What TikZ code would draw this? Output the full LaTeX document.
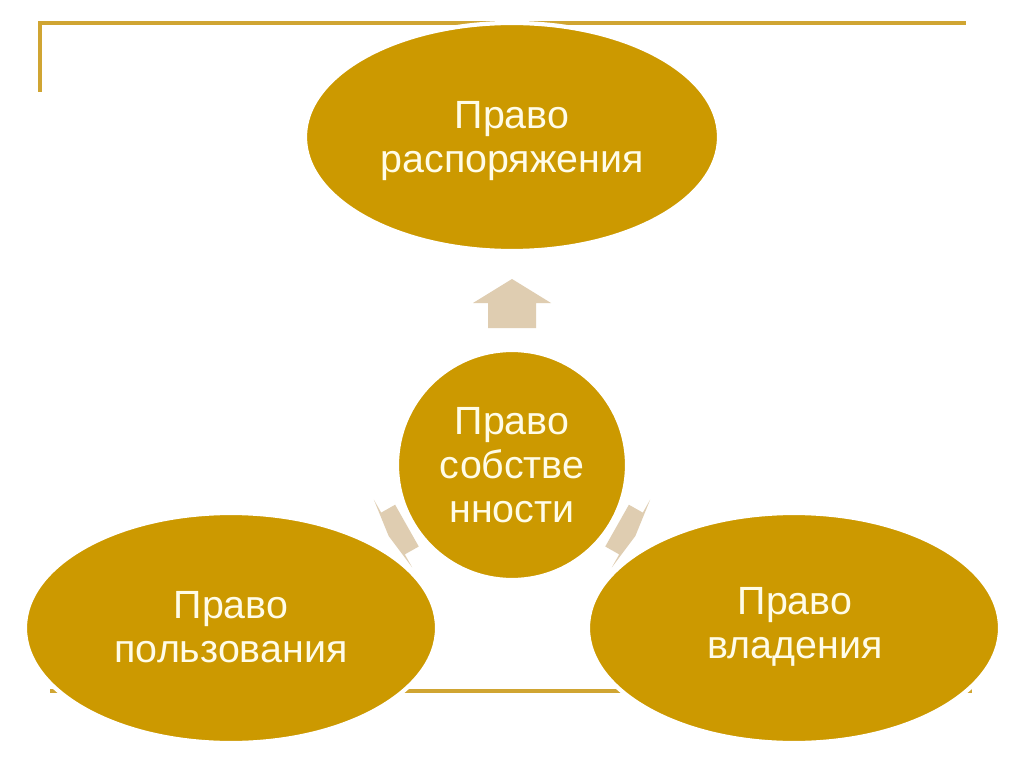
\documentclass[tikz,border=0pt]{standalone}
\usepackage{fontspec}
\setmainfont{Liberation Sans}
\usetikzlibrary{shapes.geometric}
\definecolor{gold}{RGB}{204,153,0}
\definecolor{framegold}{RGB}{208,165,50}
\definecolor{arrowfill}{RGB}{223,205,177}
\definecolor{cream}{RGB}{255,252,232}
\tikzset{
  blob/.style={ellipse, fill=gold, draw=white, line width=3pt, inner sep=0pt},
  blobtext/.style={text=cream, align=center, inner sep=0pt, font=\fontsize{28pt}{31.3pt}\selectfont},
  frameline/.style={draw=framegold, line width=2.3pt},
  pics/blockarr/.style n args={2}{code={
    \fill[arrowfill] (-#1,-24) -- (0,-24) -- (0,-39) -- (#2,0) -- (0,39) -- (0,24) -- (-#1,24) -- cycle;}}
}
\begin{document}
\begin{tikzpicture}[x=0.025cm,y=-0.025cm]
\useasboundingbox (0,0) rectangle (1024,767);
\fill[white] (0,0) rectangle (1024,767);
% frame lines
\coordinate (tl) at (40,92);
\coordinate (tc) at (40,23);
\coordinate (tr) at (966,23);
\coordinate (bl) at (50,691);
\coordinate (br) at (972,691);
\draw[frameline] (tl) -- (tc) -- (tr);
\draw[frameline] (bl) -- (br);
% block arrows
\pic[rotate=90] at (512,303) {blockarr={25}{24}};
\pic[rotate=-29.5] at (631,533.5) {blockarr={16}{5}};
\pic[rotate=209.5] at (393,533.5) {blockarr={16}{5}};
% shapes
\node[blob, minimum width=10.35cm, minimum height=5.7cm] (top) at (512,137) {};
\node[blobtext] (toptext) at (512,141) {Право\\распоряжения};
\node[blob, circle, minimum size=5.75cm] (center) at (512,465) {};
\node[blobtext] (centertext) at (512,465) {Право\\собстве\\нности};
\node[blob, minimum width=10.3cm, minimum height=5.75cm] (left) at (231,628) {};
\node[blobtext] (lefttext) at (231,627) {Право\\пользования};
\node[blob, minimum width=10.3cm, minimum height=5.75cm] (right) at (794,628) {};
\node[blobtext] (righttext) at (795,627) {Право\\владения};
\end{tikzpicture}
\end{document}
